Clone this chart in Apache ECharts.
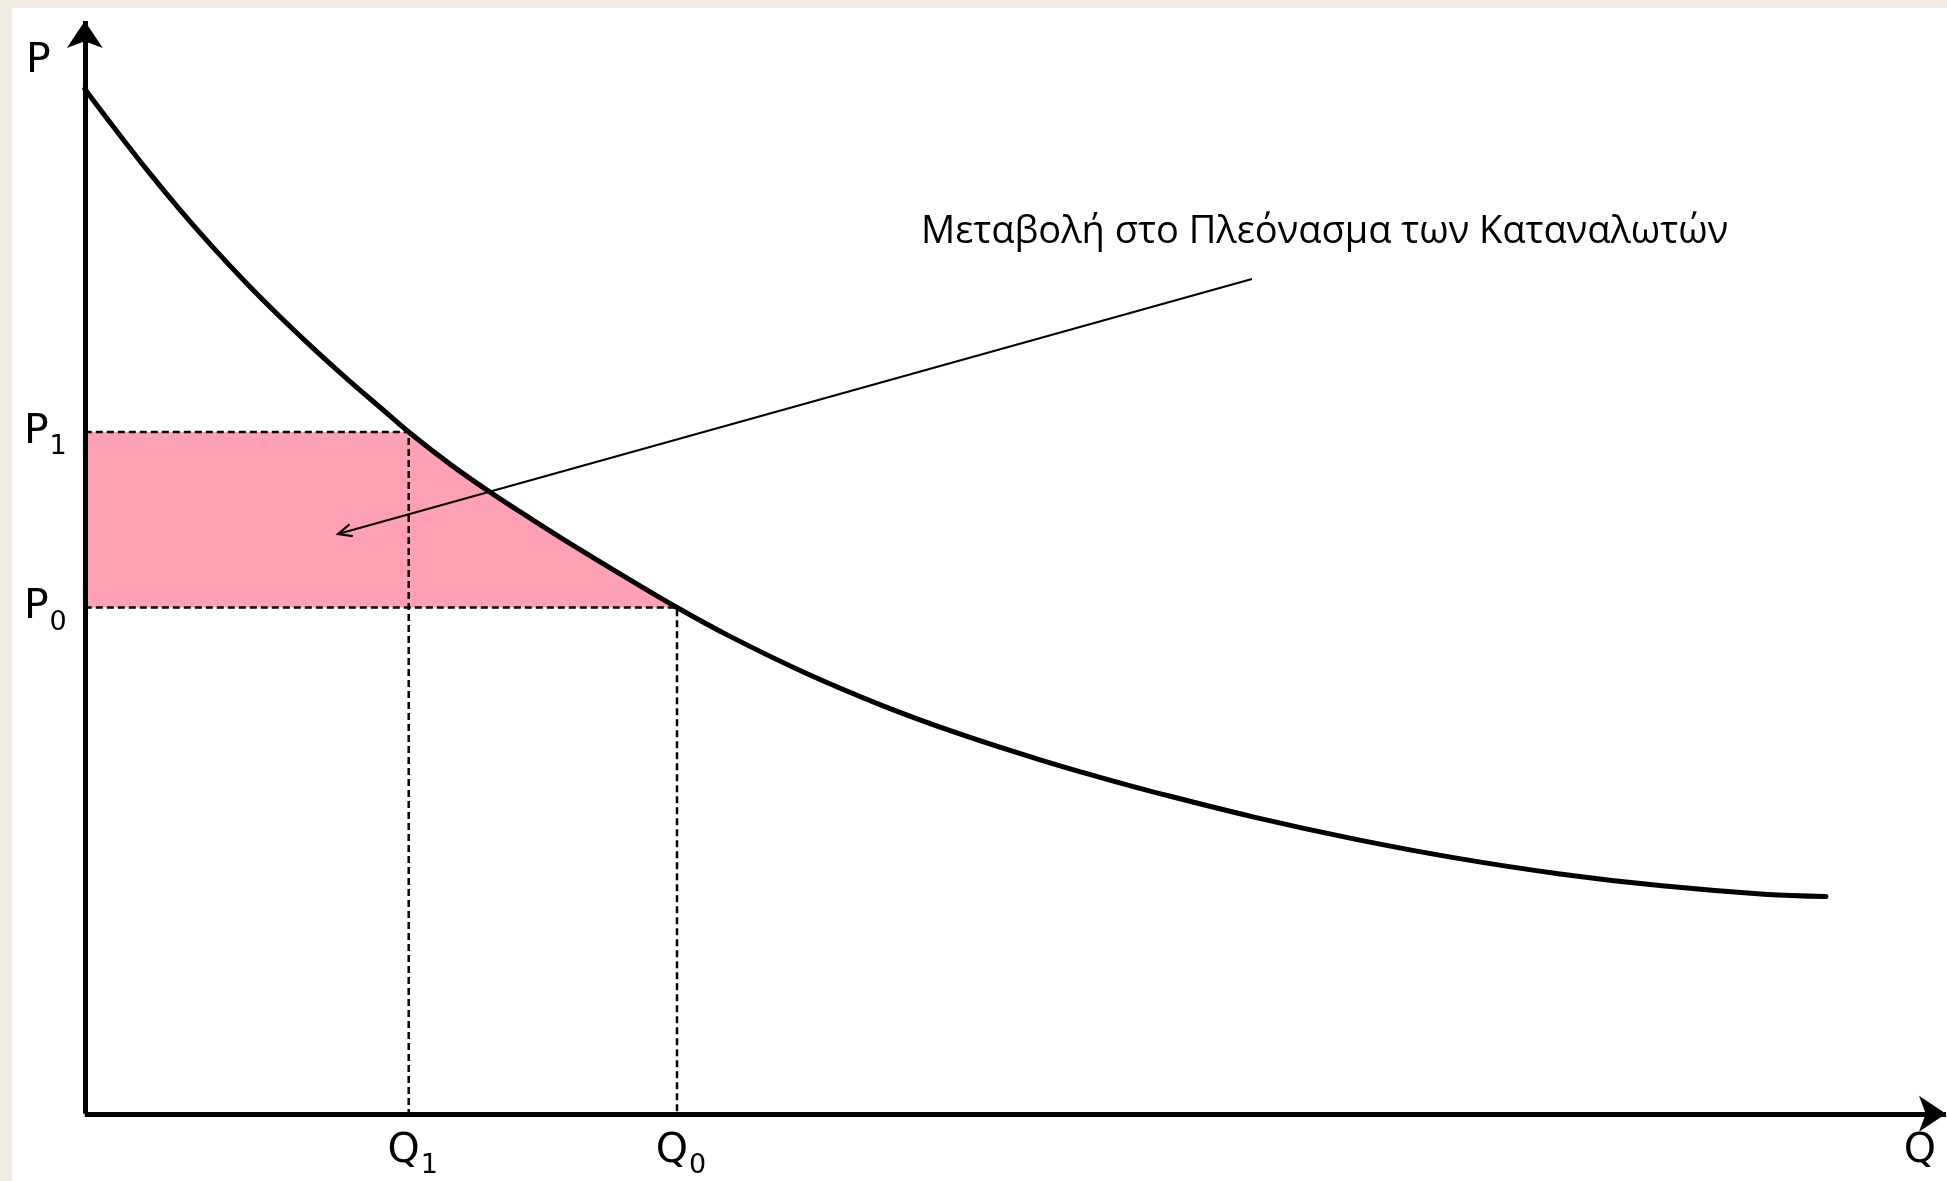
<!DOCTYPE html>
<html><head><meta charset="utf-8">
<script src="https://cdn.jsdelivr.net/npm/echarts@6/dist/echarts.min.js"></script>
<style>
html,body{margin:0;padding:0;width:1947px;height:1181px;overflow:hidden;background:#EFEBE3;}
#panel{position:absolute;left:12px;top:8px;right:0;bottom:0;background:#ffffff;}
#chart{position:absolute;left:0;top:0;width:1947px;height:1181px;}
</style></head><body>
<div id="panel"></div><div id="chart"></div>
<script>
// Demand curve (quantity, price)
const demandQ = [0, 1.526, 3.366, 5.151, 6.937, 8.776, 10.562, 12.347, 14.187, 15.972, 17.525, 19.760, 21.924, 24.250, 26.577, 28.687, 32.042, 34.910, 39.022, 43.188, 47.300, 51.466, 54.929, 57.743, 63.262, 68.781, 74.300, 79.818, 85.337, 90.856, 94.210];
const demandP = [94.77, 91.32, 87.29, 83.59, 80.12, 76.76, 73.71, 70.81, 67.97, 65.34, 63.05, 60.08, 57.49, 54.91, 52.40, 50.21, 46.82, 44.15, 40.74, 37.73, 35.15, 32.85, 31.11, 29.80, 27.44, 25.38, 23.62, 22.18, 21.08, 20.31, 20.10];
// Equilibria
const qLevels = [17.525, 32.042];    // Q1, Q0
const pLevels = [63.05, 46.82];      // P1, P0
const qTickLabels = ['Q1', 'Q0'];
const pTickLabels = ['P1', 'P0'];
// Annotation arrow: from the text down into the shaded area
const arrowFrom = [63.15, 77.20];
const arrowTo = [13.70, 53.62];
const annotationText = 'Μεταβολή στο Πλεόνασμα των Καταναλωτών';
const axisNameX = 'Q';
const axisNameY = 'P';

const Q1 = qLevels[0], Q0 = qLevels[1], P1 = pLevels[0], P0 = pLevels[1];
const curveData = demandQ.map((q, i) => [q, demandP[i]]);
const fillData = [[0, P1]].concat(curveData.filter(d => d[0] >= Q1 - 1e-6 && d[0] <= Q0 + 1e-6));

function tickLabel(values, labels, v) {
  let best = 0;
  for (let i = 1; i < values.length; i++) if (Math.abs(values[i] - v) < Math.abs(values[best] - v)) best = i;
  const s = labels[best];
  return '{a|' + s.charAt(0) + '}{b|' + s.slice(1) + '}';
}
const labelFont = 'DejaVu Sans';
const rich = {
  a: {fontFamily: labelFont, fontSize: 41, lineHeight: 41, color: '#000', verticalAlign: 'top'},
  b: {fontFamily: labelFont, fontSize: 27, lineHeight: 27, color: '#000', verticalAlign: 'top', padding: [22, 0, 0, 1]}
};
const axisLineStyle = {color: '#000', width: 5, cap: 'butt'};

const chart = echarts.init(document.getElementById('chart'), null, {renderer: 'canvas'});
chart.setOption({
  animation: false,
  backgroundColor: 'transparent',
  title: {
    text: annotationText, left: 921, top: 213, padding: 0,
    textStyle: {fontFamily: 'Open Sans', fontSize: 38, fontWeight: 'normal', color: '#000'}
  },
  grid: {left: 84.8, right: 1, top: 21, bottom: 67.2, containLabel: false},
  xAxis: {
    type: 'value', min: 0, max: 100.70, z: 10,
    name: axisNameX, nameLocation: 'end', nameGap: -26,
    nameTextStyle: {fontFamily: labelFont, fontSize: 41, color: '#000', align: 'center', verticalAlign: 'top', padding: [17, 0, 0, 0]},
    axisLine: {show: true, symbol: ['none', 'arrow'], symbolSize: [27, 27], lineStyle: axisLineStyle},
    axisTick: {show: false}, splitLine: {show: false},
    axisLabel: {customValues: qLevels, margin: 17, padding: [0, 0, 0, 8], formatter: v => tickLabel(qLevels, qTickLabels, v), rich: rich}
  },
  yAxis: {
    type: 'value', min: 0, max: 101.06, z: 10,
    name: axisNameY, nameLocation: 'end', nameGap: -20,
    nameTextStyle: {fontFamily: labelFont, fontSize: 41, color: '#000', align: 'right', verticalAlign: 'top', padding: [0, 34, 0, 0]},
    axisLine: {show: true, symbol: ['none', 'arrow'], symbolSize: [27, 27], lineStyle: axisLineStyle},
    axisTick: {show: false}, splitLine: {show: false},
    axisLabel: {customValues: pLevels, margin: 18, formatter: v => tickLabel(pLevels, pTickLabels, v), rich: rich}
  },
  series: [
    {
      type: 'line', data: fillData, smooth: false, showSymbol: false, silent: true, z: 1,
      lineStyle: {width: 0}, areaStyle: {color: '#FFA0B5', opacity: 1, origin: P0}
    },
    {
      type: 'line', data: [[0, P1], [Q1, P1], [Q1, 0]], showSymbol: false, silent: true, z: 2,
      lineStyle: {color: '#000', width: 2.5, type: [7, 4]}
    },
    {
      type: 'line', data: [[0, P0], [Q0, P0], [Q0, 0]], showSymbol: false, silent: true, z: 2,
      lineStyle: {color: '#000', width: 2.5, type: [7, 4]}
    },
    {
      type: 'line', data: curveData, smooth: 0.4, showSymbol: false, silent: true, z: 3,
      lineStyle: {color: '#000', width: 5, cap: 'round'}
    },
    {
      type: 'custom', coordinateSystem: 'cartesian2d', silent: true, z: 5,
      data: [[arrowFrom[0], arrowFrom[1], arrowTo[0], arrowTo[1]]],
      encode: {x: [0, 2], y: [1, 3]},
      renderItem: function (params, api) {
        const a = api.coord([api.value(0), api.value(1)]);
        const b = api.coord([api.value(2), api.value(3)]);
        const ang = Math.atan2(a[1] - b[1], a[0] - b[0]);
        const L = 15, h = 0.42;
        const w1 = [b[0] + L * Math.cos(ang + h), b[1] + L * Math.sin(ang + h)];
        const w2 = [b[0] + L * Math.cos(ang - h), b[1] + L * Math.sin(ang - h)];
        return {type: 'group', children: [
          {type: 'line', shape: {x1: a[0], y1: a[1], x2: b[0], y2: b[1]}, style: {stroke: '#000', lineWidth: 2.2}},
          {type: 'polyline', shape: {points: [w1, b, w2]}, style: {stroke: '#000', lineWidth: 2.2, fill: null}}
        ]};
      }
    }
  ]
});
</script>
</body></html>
